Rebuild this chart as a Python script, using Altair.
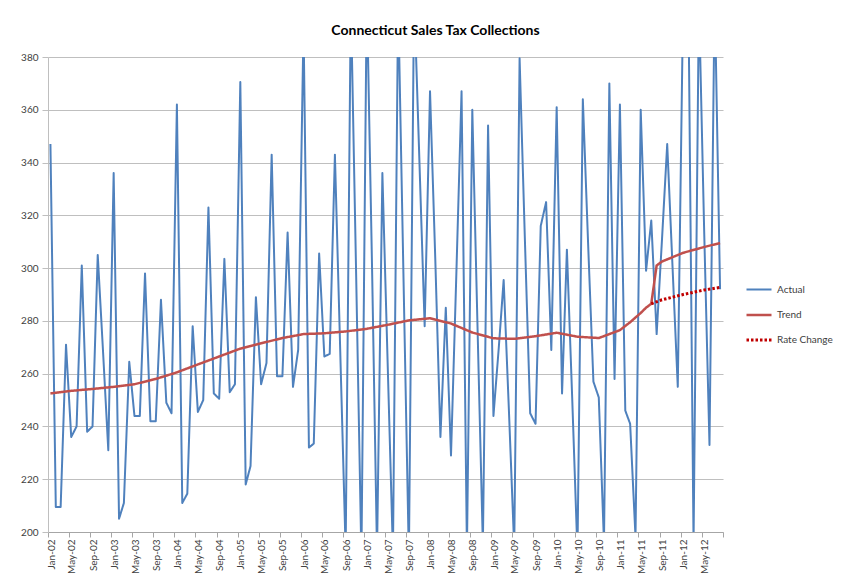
import altair as alt
import pandas as pd

# ---- data (monthly, Jan-02 .. Aug-12) ----
months = [f"{2002 + i // 12:04d}-{i % 12 + 1:02d}-15" for i in range(128)]

actual = [
    347, 209.5, 209.5, 271, 236, 240, 301, 238, 240, 305, 268, 231,      # 2002
    336, 205, 211, 264.5, 244, 244, 298, 242, 242, 288, 249, 245,        # 2003
    362, 211, 214.5, 278, 245.5, 250, 323, 252.5, 250.5, 303.5, 253, 256,  # 2004
    370.5, 218, 225, 289, 256, 264, 343, 259, 259, 313.5, 255, 269,      # 2005
    392, 232, 233.5, 305.5, 266.5, 267.5, 343, 268, 193, 402, 296, 190,  # 2006
    405, 298, 192, 336, 265, 192, 402, 296, 190, 404, 340, 278,          # 2007
    367, 302, 236, 285, 229, 298, 367, 193, 360, 278, 195, 354,          # 2008
    244, 270, 295.5, 245, 194, 379.5, 312, 245, 241, 316, 325, 269,      # 2009
    361, 252.5, 307, 250, 192, 364, 310, 257, 251, 196, 370, 258,        # 2010
    362, 246, 241, 198, 360, 299, 318, 275, 311, 347, 300, 255,          # 2011
    402, 398, 196, 402, 315, 233, 405, 292,                              # 2012
]

trend_idx = [0, 4, 8, 12, 16, 20, 24, 28, 32, 36, 40, 44, 48, 52, 56, 60, 64, 68,
             72, 76, 80, 84, 88, 92, 96, 100, 104, 108, 110, 112, 113, 114, 115,
             116, 120, 124, 127]
trend_vals = [252.5, 253.5, 254.2, 255, 256, 258, 260.5, 263.5, 266.5, 269.5,
              271.5, 273.5, 275, 275.3, 276, 277, 278.5, 280.2, 281, 279, 275.6,
              273.4, 273.2, 274.2, 275.5, 274, 273.5, 276.5, 279.5, 283, 285,
              286.5, 301, 302.5, 305.8, 308, 309.5]

rate_idx = [114, 116, 120, 124, 127]
rate_vals = [286.5, 288, 290, 291.7, 292.7]

series_names = ["Actual", "Trend", "Rate Change"]
series_colors = ["#4F81BD", "#C0504D", "#C00000"]
y_ticks = [200, 220, 240, 260, 280, 300, 320, 340, 360, 380]

df_actual = pd.DataFrame({"date": months, "value": actual, "series": "Actual"})
df_trend = pd.DataFrame({"date": [months[i] for i in trend_idx], "value": trend_vals, "series": "Trend"})
df_rate = pd.DataFrame({"date": [months[i] for i in rate_idx], "value": rate_vals, "series": "Rate Change"})

tick_dates = [alt.DateTime(year=2002 + (4 * k) // 12, month=(4 * k) % 12 + 1, date=1, utc=True)
              for k in range(33)]

FONT = "Lato"

x_enc = alt.X(
    "date:T",
    scale=alt.Scale(type="utc",
                    domain=[alt.DateTime(year=2002, month=1, date=1, utc=True),
                            alt.DateTime(year=2012, month=9, date=1, utc=True)]),
    axis=alt.Axis(
        title=None, values=tick_dates,
        labelExpr="utcFormat(datum.value, '%b-%y') == 'Sep-12' ? '' : utcFormat(datum.value, '%b-%y')",
        labelAngle=270, labelFontSize=10, labelFont=FONT, labelColor="#404040",
        labelPadding=2, labelOffset=3, labelOverlap=False, labelFlush=False,
        tickSize=5, tickColor="#A6A6A6", domainColor="#A6A6A6", grid=False,
    ),
)
y_enc = alt.Y(
    "value:Q",
    scale=alt.Scale(domain=[200, 380], nice=False, zero=False),
    axis=alt.Axis(
        title=None, values=y_ticks, labelFontSize=10, labelFont=FONT,
        labelColor="#404040", labelPadding=4, tickSize=6, tickColor="#BFBFBF",
        domainColor="#BFBFBF", gridColor="#BFBFBF", grid=True,
    ),
)
color_enc = alt.Color("series:N", scale=alt.Scale(domain=series_names, range=series_colors),
                      legend=alt.Legend(title=None))
dash_enc = alt.StrokeDash("series:N",
                          scale=alt.Scale(domain=series_names, range=[[1, 0], [1, 0], [2.5, 2]]),
                          legend=alt.Legend(title=None))
width_enc = alt.StrokeWidth("series:N",
                            scale=alt.Scale(domain=series_names, range=[2, 3, 3]),
                            legend=alt.Legend(title=None))


def layer(df):
    return alt.Chart(df).mark_line(clip=True, strokeJoin="round").encode(
        x=x_enc, y=y_enc, color=color_enc, strokeDash=dash_enc, strokeWidth=width_enc
    )


chart = alt.layer(layer(df_actual), layer(df_trend), layer(df_rate)).properties(
    width=675,
    height=475,
    padding={"left": 40, "top": 49, "right": 124, "bottom": 47},
    autosize=alt.AutoSizeParams(type="none"),
    background="white",
    title=alt.TitleParams(
        "Connecticut Sales Tax Collections", font=FONT, fontSize=14, fontWeight="bold",
        color="#000000", anchor="middle", frame="group", dx=50, offset=14,
    ),
).configure_view(strokeWidth=0).configure_legend(
    orient="none", legendX=697, legendY=219, symbolType="stroke", symbolSize=625,
    labelFont=FONT, labelFontSize=10, labelColor="#404040", rowPadding=6,
    labelOffset=4,
)

chart.save("out.html", embed_options={"renderer": "svg", "actions": False})
